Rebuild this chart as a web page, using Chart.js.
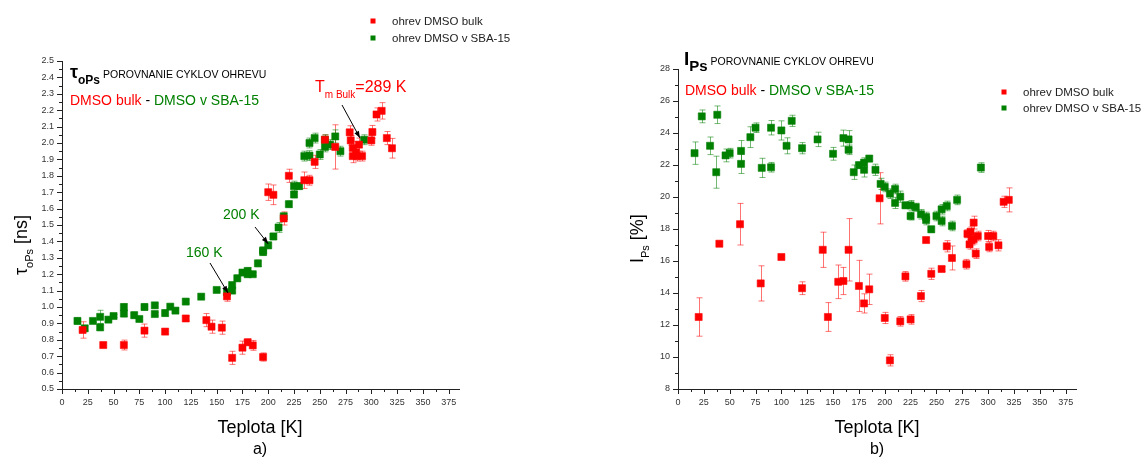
<!DOCTYPE html>
<html>
<head>
<meta charset="utf-8">
<script src="https://cdn.jsdelivr.net/npm/chart.js@4.4.1/dist/chart.umd.min.js"></script>
<style>
  html, body { margin: 0; padding: 0; background: #fff; }
  #wrap { position: relative; width: 1148px; height: 460px; }
  canvas { position: absolute; top: 0; }
  #tau { left: 0; }
  #ips { left: 574px; }
</style>
</head>
<body>
<div id="wrap">
  <canvas id="tau" width="574" height="460"></canvas>
  <canvas id="ips" width="574" height="460"></canvas>
</div>
<script>
const FONT = "'Liberation Sans', Arial, sans-serif";
const RED = '#ff0000';
const GREEN = '#008000';

const seriesNames = ['ohrev DMSO bulk', 'ohrev DMSO v SBA-15'];

// a) tau_oPs [ns]
const tauBulkT = [20,40,60,80,100,120,140,145,155,160,165,175,180,185,195,200,205,215,220,235,240,245,255,265,279,280,282,282,285,286,288,291,300,301,305,310,315,320];
const tauBulk = [0.86,0.768,0.768,0.856,0.85,0.93,0.92,0.88,0.874,1.065,0.69,0.752,0.785,0.766,0.695,1.70,1.684,1.54,1.80,1.773,1.773,1.885,2.02,1.976,2.065,2.016,1.97,1.92,1.943,1.92,1.99,1.92,2.016,2.067,2.174,2.196,2.03,1.968];
const tauBulkErr = [0.05,0.015,0.03,0.04,0.015,0.015,0.04,0.04,0.04,0.03,0.04,0.04,0.02,0.03,0.025,0.05,0.06,0.04,0.04,0.05,0.03,0.04,0.03,0.135,0.04,0.03,0.04,0.04,0.03,0.03,0.04,0.03,0.03,0.04,0.04,0.05,0.04,0.06];

const tauSbaT = [15,22,30,37,37,45,50,60,60,70,75,80,90,90,100,105,110,120,135,150,160,165,165,170,175,180,180,185,190,195,195,200,205,210,215,220,225,225,230,235,240,240,245,250,255,255,260,265,270,293];
const tauSba = [0.915,0.87,0.915,0.94,0.876,0.923,0.945,1.0,0.96,0.95,0.927,1.0,1.01,0.957,0.963,1.002,0.978,1.033,1.063,1.104,1.09,1.1,1.134,1.175,1.21,1.22,1.20,1.2,1.266,1.345,1.335,1.376,1.43,1.485,1.553,1.627,1.686,1.737,1.737,1.92,1.923,2.0,2.03,1.93,1.976,2.02,1.99,2.04,1.95,2.02];
const tauSbaErr = [0.02,0.015,0.01,0.04,0.02,0.01,0.01,0.02,0.02,0.02,0.01,0.02,0.01,0.01,0.02,0.01,0.01,0.01,0.01,0.01,0.02,0.01,0.01,0.02,0.01,0.02,0.02,0.01,0.02,0.02,0.02,0.02,0.02,0.03,0.02,0.02,0.02,0.03,0.02,0.03,0.03,0.03,0.03,0.03,0.03,0.03,0.03,0.04,0.03,0.03];

// b) I_Ps [%]
const ipsBulkT = [20,40,60,80,100,120,140,145,155,160,165,175,180,185,195,200,205,215,220,225,235,240,245,255,260,265,279,280,282,283,284,286,286,288,290,300,301,305,310,315,320];
const ipsBulk = [12.5,17.08,18.3,14.6,16.25,14.3,16.7,12.5,14.7,14.75,16.7,14.44,13.35,14.23,19.92,12.44,9.79,12.23,15.04,12.35,13.81,17.31,15.2,15.5,16.92,16.19,15.8,17.7,17.04,17.83,17.3,17.37,18.4,16.46,17.56,17.56,16.88,17.56,16.98,19.7,19.82];
const ipsBulkErr = [1.2,0.15,1.3,1.1,0.12,0.4,1.1,0.9,1.05,0.85,1.95,1.6,0.6,0.95,1.6,0.35,0.35,0.3,0.3,0.3,0.35,0.15,0.35,0.15,0.35,0.75,0.3,0.25,0.3,0.3,0.3,0.3,0.4,0.3,0.3,0.35,0.3,0.3,0.35,0.35,0.75];

const ipsSbaT = [16,23,31,37,38,46,50,61,61,70,75,81,90,90,100,105,110,120,135,150,160,165,165,170,175,180,180,185,191,196,200,205,210,210,215,220,225,225,230,235,240,240,245,250,255,255,260,265,270,293];
const ipsSba = [22.74,25.04,23.2,21.55,25.14,22.6,22.74,22.88,22.07,23.74,24.33,21.82,24.33,21.86,24.16,23.2,24.76,23.05,23.6,22.7,23.68,23.6,22.95,21.55,21.99,22.15,21.7,22.4,21.7,20.82,20.63,20.21,20.5,19.63,20.02,19.48,19.48,18.81,19.36,18.92,18.75,18.56,17.98,18.81,19.23,18.5,19.44,18.19,19.82,21.84];
const ipsSbaErr = [0.7,0.4,0.55,1.0,0.55,0.4,0.3,0.65,0.6,0.65,0.3,0.6,0.45,0.3,0.6,0.5,0.35,0.35,0.45,0.4,0.5,0.55,0.3,0.45,0.2,0.3,0.45,0.2,0.35,0.35,0.3,0.3,0.3,0.35,0.35,0.2,0.3,0.25,0.25,0.3,0.3,0.3,0.2,0.3,0.3,0.3,0.3,0.3,0.3,0.3];

function pts(xs, ys) {
  return xs.map((x, i) => ({x: x, y: ys[i]}));
}

function dataset(label, xs, ys, errs, color, halo) {
  return {
    label: label,
    data: pts(xs, ys),
    errors: errs,
    errColor: halo,
    pointStyle: 'rect',
    pointRadius: 5,
    backgroundColor: color,
    borderColor: halo,
    borderWidth: 1,
    showLine: false
  };
}

// draw text pieces one after another (for subscripts / colours)
function runs(ctx, x, y, parts) {
  ctx.textBaseline = 'alphabetic';
  ctx.textAlign = 'left';
  for (const p of parts) {
    ctx.font = p.font;
    ctx.fillStyle = p.color || '#000';
    ctx.fillText(p.text, x, y + (p.dy || 0));
    x += ctx.measureText(p.text).width;
  }
}

function arrow(ctx, x1, y1, x2, y2) {
  ctx.strokeStyle = '#000';
  ctx.fillStyle = '#000';
  ctx.lineWidth = 1;
  ctx.beginPath();
  ctx.moveTo(x1, y1);
  ctx.lineTo(x2, y2);
  ctx.stroke();
  const a = Math.atan2(y2 - y1, x2 - x1), L = 7, W = 2.5;
  ctx.beginPath();
  ctx.moveTo(x2, y2);
  ctx.lineTo(x2 - L * Math.cos(a) + W * Math.sin(a), y2 - L * Math.sin(a) - W * Math.cos(a));
  ctx.lineTo(x2 - L * Math.cos(a) - W * Math.sin(a), y2 - L * Math.sin(a) + W * Math.cos(a));
  ctx.closePath();
  ctx.fill();
}

function legend(chart, x, y, gap) {
  const ctx = chart.ctx;
  chart.data.datasets.forEach((ds, i) => {
    const yy = y + i * gap;
    ctx.fillStyle = ds.backgroundColor;
    ctx.fillRect(x - 2.5, yy - 2.5, 5, 5);
    runs(ctx, x + 19, yy + 4, [{text: ds.label, font: '11.5px ' + FONT, color: '#222'}]);
  });
}

const errorBars = {
  id: 'errorBars',
  beforeDatasetsDraw(chart) {
    const ctx = chart.ctx, xs = chart.scales.x, ys = chart.scales.y;
    ctx.save();
    chart.data.datasets.forEach(ds => {
      ctx.strokeStyle = ds.errColor;
      ctx.lineWidth = 1;
      ds.data.forEach((p, i) => {
        const e = ds.errors[i];
        const px = Math.round(xs.getPixelForValue(p.x)) + 0.5;
        const top = ys.getPixelForValue(p.y + e);
        const bot = ys.getPixelForValue(p.y - e);
        ctx.beginPath();
        ctx.moveTo(px, top); ctx.lineTo(px, bot);
        ctx.moveTo(px - 3, top); ctx.lineTo(px + 3, top);
        ctx.moveTo(px - 3, bot); ctx.lineTo(px + 3, bot);
        ctx.stroke();
      });
    });
    ctx.restore();
  }
};

// major (long) and minor (short) outward tick marks, Origin style
const tickMarks = {
  id: 'tickMarks',
  afterDraw(chart) {
    const ctx = chart.ctx, a = chart.chartArea;
    ctx.save();
    ctx.strokeStyle = '#222';
    ctx.lineWidth = 1;
    ['x', 'y'].forEach(id => {
      const s = chart.scales[id];
      const half = s.options.ticks.stepSize / 2;
      const n = Math.floor((s.max - s.min) / half + 1e-6);
      for (let i = 0; i <= n; i++) {
        const v = s.min + i * half;
        const len = i % 2 === 0 ? 5 : 3;
        ctx.beginPath();
        if (id === 'x') {
          const px = Math.round(s.getPixelForValue(v)) + 0.5;
          ctx.moveTo(px, a.bottom);
          ctx.lineTo(px, a.bottom + len);
        } else {
          const py = Math.round(s.getPixelForValue(v)) + 0.5;
          ctx.moveTo(a.left, py);
          ctx.lineTo(a.left - len, py);
        }
        ctx.stroke();
      }
    });
    ctx.restore();
  }
};

function xTitle(ctx, cx, letter) {
  ctx.font = '18px ' + FONT;
  ctx.fillStyle = '#000';
  ctx.textAlign = 'center';
  ctx.fillText('Teplota [K]', cx, 433);
  ctx.font = '16px ' + FONT;
  ctx.fillText(letter, cx, 454);
}

function options(yMin, yMax, yStep, yDigits, yWidth, pad) {
  return {
    responsive: false,
    animation: false,
    events: [],
    layout: {padding: pad},
    plugins: {legend: {display: false}, tooltip: {enabled: false}},
    scales: {
      x: {
        type: 'linear',
        min: 0,
        max: 385,
        afterFit: s => { s.height = 71; },
        grid: {display: false, drawTicks: true, tickLength: 5},
        border: {display: true, color: '#222', width: 1},
        ticks: {
          stepSize: 25,
          includeBounds: false,
          autoSkip: false,
          maxRotation: 0,
          padding: 3,
          color: '#333',
          font: {family: FONT, size: 9}
        }
      },
      y: {
        type: 'linear',
        min: yMin,
        max: yMax,
        afterFit: s => { s.width = yWidth; },
        grid: {display: false, drawTicks: true, tickLength: 5},
        border: {display: true, color: '#222', width: 1},
        ticks: {
          stepSize: yStep,
          autoSkip: false,
          padding: 3,
          color: '#333',
          font: {family: FONT, size: 9},
          callback: v => v.toFixed(yDigits)
        }
      }
    }
  };
}

const tauText = {
  id: 'tauText',
  afterDraw(chart) {
    const ctx = chart.ctx, xs = chart.scales.x, ys = chart.scales.y;
    ctx.save();
    runs(ctx, 70, 78, [
      {text: 'τ', font: 'bold 18px ' + FONT},
      {text: 'oPs', font: 'bold 12px ' + FONT, dy: 6},
      {text: ' POROVNANIE CYKLOV OHREVU', font: '10.5px ' + FONT}
    ]);
    runs(ctx, 70, 105, [
      {text: 'DMSO bulk', font: '14px ' + FONT, color: RED},
      {text: ' - ', font: '14px ' + FONT, color: '#000'},
      {text: 'DMSO v SBA-15', font: '14px ' + FONT, color: GREEN}
    ]);
    runs(ctx, 315, 92, [
      {text: 'T', font: '16px ' + FONT, color: RED},
      {text: 'm Bulk', font: '10px ' + FONT, color: RED, dy: 6},
      {text: '=289 K', font: '16px ' + FONT, color: RED}
    ]);
    arrow(ctx, 342, 105, xs.getPixelForValue(289), ys.getPixelForValue(2.03));
    runs(ctx, 223, 219, [{text: '200 K', font: '14px ' + FONT, color: GREEN}]);
    arrow(ctx, 255, 227, xs.getPixelForValue(200), ys.getPixelForValue(1.385));
    runs(ctx, 186, 257, [{text: '160 K', font: '14px ' + FONT, color: GREEN}]);
    arrow(ctx, 210, 263, xs.getPixelForValue(161), ys.getPixelForValue(1.085));

    legend(chart, 373, 21, 17);
    xTitle(ctx, 260, 'a)');

    ctx.translate(27, 275);
    ctx.rotate(-Math.PI / 2);
    runs(ctx, 0, 0, [
      {text: 'τ', font: '18px ' + FONT},
      {text: 'oPs', font: '11px ' + FONT, dy: 6},
      {text: ' [ns]', font: '18px ' + FONT}
    ]);
    ctx.restore();
  }
};

const ipsText = {
  id: 'ipsText',
  afterDraw(chart) {
    const ctx = chart.ctx;
    ctx.save();
    runs(ctx, 110, 65, [
      {text: 'I', font: 'bold 19px ' + FONT},
      {text: 'Ps', font: 'bold 15px ' + FONT, dy: 6},
      {text: ' POROVNANIE CYKLOV OHREVU', font: '10.5px ' + FONT}
    ]);
    runs(ctx, 111, 95, [
      {text: 'DMSO bulk', font: '14px ' + FONT, color: RED},
      {text: ' - ', font: '14px ' + FONT, color: '#000'},
      {text: 'DMSO v SBA-15', font: '14px ' + FONT, color: GREEN}
    ]);
    legend(chart, 430, 92, 16);
    xTitle(ctx, 303, 'b)');

    ctx.translate(69, 263);
    ctx.rotate(-Math.PI / 2);
    runs(ctx, 0, 0, [
      {text: 'I', font: '18px ' + FONT},
      {text: 'Ps', font: '11px ' + FONT, dy: 6},
      {text: ' [%]', font: '18px ' + FONT}
    ]);
    ctx.restore();
  }
};

new Chart(document.getElementById('tau'), {
  type: 'scatter',
  data: {
    datasets: [
      dataset(seriesNames[0], tauBulkT, tauBulk, tauBulkErr, RED, 'rgba(255,0,0,0.55)'),
      dataset(seriesNames[1], tauSbaT, tauSba, tauSbaErr, GREEN, 'rgba(0,128,0,0.55)')
    ]
  },
  options: options(0.5, 2.5, 0.1, 1, 62, {left: 0, top: 61, right: 115, bottom: 0}),
  plugins: [errorBars, tickMarks, tauText]
});

new Chart(document.getElementById('ips'), {
  type: 'scatter',
  data: {
    datasets: [
      dataset(seriesNames[0], ipsBulkT, ipsBulk, ipsBulkErr, RED, 'rgba(255,0,0,0.55)'),
      dataset(seriesNames[1], ipsSbaT, ipsSba, ipsSbaErr, GREEN, 'rgba(0,128,0,0.55)')
    ]
  },
  options: options(8, 28, 2, 0, 104, {left: 0, top: 69, right: 72, bottom: 0}),
  plugins: [errorBars, tickMarks, ipsText]
});
</script>
</body>
</html>
